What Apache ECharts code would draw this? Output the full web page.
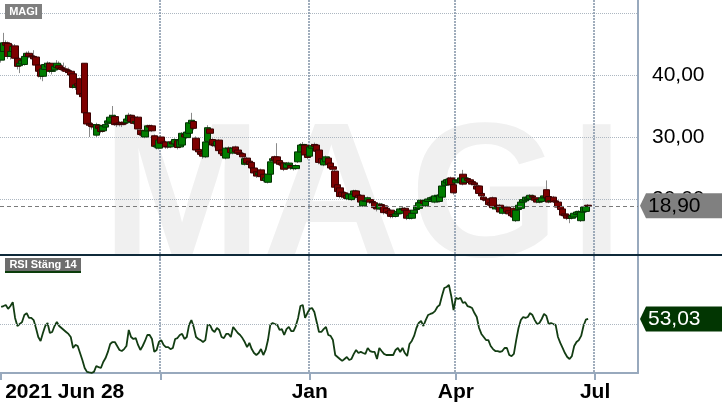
<!DOCTYPE html>
<html><head><meta charset="utf-8">
<script src="https://cdn.jsdelivr.net/npm/echarts@6/dist/echarts.min.js"></script>
<style>html,body{margin:0;padding:0;background:#fff}#c{width:722px;height:410px}</style>
</head><body><div id="c"></div>
<script>
const ticker = 'MAGI';
const rsiTitle = 'RSI Stäng 14';
const firstDate = '2021-06-28';
const nCategories = 275;
const holidays = ['2021-12-24','2021-12-31','2022-01-06','2022-04-15','2022-04-18','2022-05-26','2022-06-06','2022-06-24'];
const tickDates = ['2021-06-28','2021-10-01','2022-01-03','2022-04-01','2022-07-01'];
const tickLabels = ['2021 Jun 28','','Jan','Apr','Jul'];
const priceLabelValues = [20, 30, 40];

const opens = [
42.4,43.8,45.2,45.1,43.0,43.8,44.7,42.7,41.5,41.8,
41.7,43.0,43.5,43.1,43.0,42.9,41.6,40.8,39.8,40.9,
41.3,41.9,40.6,40.8,41.2,41.5,41.2,41.0,40.9,40.7,
40.6,40.2,38.0,38.6,39.4,37.0,41.9,33.9,32.2,32.0,
31.7,30.3,31.9,31.6,31.0,31.6,32.2,32.4,33.2,33.3,
32.2,32.3,32.3,32.4,32.3,32.7,33.5,33.2,32.3,33.2,
31.1,30.6,30.0,31.0,31.8,31.8,30.2,28.4,28.2,30.0,
29.2,29.2,28.5,28.4,29.2,28.9,29.4,28.4,28.7,30.4,
29.9,30.6,32.2,32.5,29.8,28.0,27.6,27.3,26.8,29.3,
31.3,29.6,28.9,28.6,29.5,27.9,27.3,26.6,28.1,28.2,
27.4,28.4,27.9,27.4,27.3,25.6,26.6,26.1,25.9,25.0,
24.4,23.9,24.7,24.0,23.0,22.7,24.0,26.2,26.8,26.8,
26.2,25.8,25.8,25.0,25.5,25.4,24.9,24.9,26.0,27.6,
28.7,28.7,27.2,26.9,28.2,28.8,28.7,27.9,26.5,25.5,
26.0,26.6,25.8,25.2,24.5,22.3,21.8,21.1,21.0,20.6,
20.0,19.9,20.8,21.3,20.6,20.6,18.9,19.6,19.7,19.9,
19.6,19.4,18.6,18.4,19.1,18.9,18.5,18.0,18.2,17.5,
17.2,17.6,17.7,18.3,18.5,18.2,16.9,16.9,17.7,18.3,
18.5,19.4,19.7,18.9,19.6,19.9,20.1,19.5,20.4,19.6,
20.3,22.2,22.6,22.3,23.4,22.3,22.6,22.9,22.7,24.0,
22.7,23.3,23.1,22.8,22.6,22.1,22.1,20.9,20.3,20.0,
20.0,19.4,20.2,18.4,18.9,19.0,17.7,18.6,18.7,18.1,
17.8,18.5,16.5,18.3,18.5,19.5,19.7,19.9,20.0,20.5,
20.2,19.9,19.5,19.6,20.2,21.5,20.4,19.6,20.3,19.7,
19.5,18.8,18.4,17.6,17.4,17.2,16.9,17.1,17.5,17.7,
16.5,17.9,18.0,19.0];
const closes = [
43.8,45.2,44.8,43.0,43.8,44.6,42.7,41.4,41.9,42.3,
43.0,43.5,43.0,42.9,42.6,41.6,40.6,39.8,41.0,41.7,
41.9,40.6,40.7,41.4,41.9,41.1,40.9,40.8,40.6,40.4,
40.0,38.0,38.4,38.2,36.9,36.5,33.9,32.1,31.9,31.7,
31.6,32.0,31.4,30.9,31.8,32.0,32.6,33.2,33.5,32.0,
32.0,32.1,32.0,32.2,32.9,33.5,32.5,32.2,32.5,31.3,
30.4,30.3,31.0,31.8,31.6,31.0,28.5,28.6,29.5,29.0,
29.0,28.4,28.4,29.2,28.9,29.6,28.3,29.4,30.6,30.0,
30.8,32.3,32.7,31.4,27.9,27.6,27.2,26.9,29.2,31.5,
30.6,28.7,28.6,29.3,27.8,27.3,27.0,28.2,28.2,27.5,
28.2,27.6,27.4,27.2,26.8,26.5,25.8,25.6,25.0,24.2,
23.7,24.2,23.6,23.0,23.4,24.0,26.0,26.5,26.3,25.8,
25.6,25.5,24.8,25.7,25.8,25.0,25.1,25.4,27.6,28.7,
28.8,27.1,26.7,28.4,28.6,28.5,27.7,25.9,25.8,26.4,
26.8,25.6,25.0,24.8,21.9,21.2,20.4,20.4,20.3,20.1,
20.8,20.8,21.3,20.4,20.2,19.5,19.7,19.7,20.2,19.5,
19.4,18.6,18.4,19.2,18.9,17.8,17.8,17.7,17.2,17.2,
17.6,18.0,18.4,18.5,18.1,16.9,17.3,17.7,18.2,18.9,
19.4,19.8,19.3,19.7,20.0,20.2,20.3,20.5,20.6,20.6,
22.1,22.9,23.1,23.2,22.3,21.0,23.1,23.0,23.4,22.4,
23.4,23.0,22.7,22.4,22.3,21.6,20.9,20.5,19.9,19.8,
19.1,19.0,18.6,18.8,18.7,17.9,18.6,18.5,17.9,17.6,
17.3,17.1,18.2,19.0,19.5,19.9,20.3,20.2,20.6,20.3,
19.8,19.5,19.9,20.2,20.5,20.2,19.5,19.7,19.6,19.5,
18.7,18.3,17.4,17.3,16.9,16.9,17.3,17.7,17.9,18.0,
17.9,18.7,18.8,18.9];
const highs = [
44.2,46.8,45.6,45.4,44.3,45.0,45.0,43.0,42.3,42.6,
43.4,43.8,43.9,43.4,44.0,43.0,41.9,41.0,41.3,42.0,
42.2,42.1,41.0,41.9,42.4,42.2,41.8,42.0,41.5,41.2,
40.9,40.4,38.8,39.4,39.6,37.4,41.9,34.2,32.5,32.4,
32.0,32.3,32.1,31.8,32.1,32.3,32.9,33.6,35.0,33.6,
32.6,32.6,32.5,32.9,33.1,33.9,33.7,33.4,32.8,33.4,
31.3,30.9,31.2,32.0,32.0,32.0,30.4,28.9,29.8,30.3,
29.5,29.4,28.8,29.4,29.5,29.8,29.6,29.6,30.8,30.7,
31.0,32.6,33.9,32.7,30.1,28.3,27.9,27.6,29.4,31.9,
31.5,29.8,29.2,29.5,29.7,28.1,27.5,28.4,28.5,28.4,
28.5,28.6,28.1,27.6,27.6,26.7,26.8,26.3,26.0,25.2,
24.6,24.5,24.9,24.4,23.6,24.2,26.3,26.9,27.0,29.0,
26.4,26.1,26.0,25.9,26.0,25.6,25.4,25.6,27.8,29.0,
29.2,28.9,27.3,28.6,28.9,29.1,28.9,28.1,26.7,26.6,
27.0,26.8,26.0,25.4,24.7,22.5,22.0,21.3,21.2,20.9,
21.0,21.1,21.5,21.5,20.8,20.8,19.9,20.0,20.4,20.1,
19.8,19.6,18.8,19.4,19.3,19.1,18.7,18.2,18.4,17.7,
17.8,18.2,18.6,18.7,18.7,18.4,17.5,17.9,18.4,19.1,
19.6,20.0,19.9,19.9,20.2,20.4,20.5,20.7,20.8,20.8,
22.3,23.2,23.4,23.5,23.6,22.5,23.3,23.3,23.6,24.7,
23.6,23.5,23.3,23.0,22.8,22.3,22.3,21.1,20.5,20.2,
20.2,19.6,20.4,19.0,19.1,19.2,18.8,18.9,18.9,18.3,
18.0,18.7,18.4,19.2,19.7,20.1,20.5,20.5,20.8,20.7,
20.4,20.1,20.1,20.4,20.8,23.0,20.6,20.0,20.5,19.9,
19.7,19.0,18.6,17.8,17.6,17.4,17.5,17.9,18.1,18.2,
18.1,18.9,19.0,19.2];
const lows = [
42.0,43.5,44.2,42.6,42.5,43.5,42.4,40.9,40.3,41.5,
41.5,42.8,42.7,42.6,42.3,41.2,39.6,39.3,39.0,40.6,
41.0,40.3,40.1,40.5,41.0,40.9,40.6,40.5,40.3,40.0,
39.7,37.8,37.6,37.9,36.5,36.0,33.6,31.8,30.0,31.2,
30.8,30.0,31.0,30.6,30.7,31.3,32.0,32.2,33.0,31.8,
31.6,31.7,31.6,31.9,32.0,32.5,32.2,32.0,32.0,31.0,
30.1,30.0,29.8,30.8,31.2,30.8,28.2,28.0,28.0,28.8,
28.7,28.1,28.1,28.2,28.6,28.6,28.0,28.2,28.5,29.7,
29.7,30.4,32.0,31.1,27.6,27.2,26.9,26.5,26.6,29.1,
30.2,28.4,28.3,28.4,27.5,27.0,26.7,26.4,27.9,27.2,
27.2,27.3,27.1,26.9,26.5,25.4,25.5,25.3,24.7,23.9,
23.4,23.6,23.3,22.7,22.6,22.5,23.8,25.9,26.0,25.6,
25.3,25.2,24.5,24.8,25.2,24.7,24.6,24.7,25.8,27.4,
28.4,26.9,26.4,26.7,28.0,28.2,27.5,25.6,25.5,25.3,
25.8,25.3,24.7,24.5,21.6,20.9,20.1,20.1,20.0,19.8,
19.8,19.7,20.5,20.1,19.9,19.3,18.7,19.3,19.5,19.2,
19.1,18.3,18.0,18.2,18.6,17.5,17.5,17.4,16.9,16.9,
17.0,17.4,17.5,18.1,17.8,16.6,16.7,16.7,17.5,18.1,
18.3,19.2,19.0,18.7,19.4,19.7,19.9,19.3,20.2,19.4,
20.1,22.0,22.4,22.1,22.0,20.7,22.4,22.6,22.5,22.2,
22.5,22.8,22.5,22.2,22.0,21.3,20.6,20.2,19.6,19.5,
18.8,18.7,18.3,18.2,18.4,17.6,17.5,18.2,17.6,17.3,
17.0,16.8,16.3,18.1,18.3,19.3,19.5,19.7,19.8,20.1,
19.5,19.3,19.3,19.4,20.0,20.1,19.3,19.4,19.4,19.2,
18.5,18.0,17.2,17.0,16.6,16.1,16.7,16.9,17.3,17.5,
16.3,17.7,17.8,18.7];
const rsi = [
59.7,60.2,60.8,58.6,60.2,62.4,53.6,49.1,50.2,51.3,
55.2,56.3,53.6,53.6,52.4,48.0,43.0,40.8,45.2,49.1,
50.8,45.2,45.8,49.1,51.3,49.1,48.0,46.9,45.8,44.7,
43.0,36.9,38.6,38.0,34.1,30.2,25.8,23.6,23.3,23.1,
23.6,26.9,26.3,25.8,29.1,31.3,34.7,39.1,40.2,40.2,
38.0,35.8,35.2,36.3,38.0,46.9,43.0,41.9,42.4,38.6,
35.8,38.0,40.8,44.1,44.1,41.9,34.7,35.8,40.2,41.3,
38.6,37.4,37.4,36.3,36.9,41.9,42.4,44.1,44.7,41.9,
43.0,49.7,52.4,48.6,43.0,41.9,41.3,40.2,41.3,49.7,
49.7,46.9,45.8,48.0,46.9,43.0,42.4,44.7,44.7,43.0,
48.6,46.9,45.2,44.1,42.4,40.2,37.4,39.7,36.3,34.1,
33.0,34.1,36.3,33.0,35.8,41.3,49.7,50.8,50.2,49.7,
46.9,47.4,44.1,47.4,48.6,46.3,46.3,49.1,53.6,60.2,
60.8,53.6,56.3,58.6,59.1,56.9,51.3,45.8,45.8,47.4,
48.6,44.1,43.6,41.3,33.0,31.9,30.8,29.7,30.8,31.9,
30.2,30.8,33.6,35.8,34.1,34.7,34.1,33.6,36.9,35.2,
34.7,34.7,30.8,36.9,35.2,33.6,33.0,33.0,33.0,33.0,
35.8,36.9,34.7,36.9,34.1,32.4,39.1,40.8,43.6,48.0,
50.8,51.9,49.1,52.4,55.2,55.8,56.3,57.4,59.7,60.8,
65.8,70.2,70.8,71.9,65.8,58.0,64.7,64.1,64.7,61.9,
62.4,60.2,59.7,59.1,56.3,54.1,48.0,44.7,43.0,41.3,
41.3,38.0,36.3,35.2,35.2,34.7,35.2,36.9,36.9,33.0,
32.4,33.6,41.3,48.0,52.4,54.1,53.6,54.1,56.3,55.2,
52.4,50.2,50.8,53.0,55.8,54.7,50.2,50.8,50.2,49.7,
43.0,39.7,36.9,34.1,31.9,30.8,32.4,38.0,40.2,41.3,
43.6,49.1,52.6,53.03];

// trading-day categories
const dates = [];
(function(){
  const p = firstDate.split('-').map(Number);
  const d = new Date(Date.UTC(p[0], p[1]-1, p[2]));
  while (dates.length < nCategories) {
    const s = d.toISOString().slice(0,10);
    const wd = d.getUTCDay();
    if (wd !== 0 && wd !== 6 && holidays.indexOf(s) < 0) dates.push(s);
    d.setUTCDate(d.getUTCDate() + 1);
  }
})();
const tickIdx = tickDates.map(t => dates.indexOf(t));
const isTick = i => tickIdx.indexOf(i) >= 0;
const isGridTick = i => i > 0 && isTick(i);
const fmt = v => v.toFixed(2).replace('.', ',');
const FONT = '"Liberation Sans", Arial, sans-serif';
const axisCol = '#98a9bd';
const vGrid = {show:true, interval:(i)=>isGridTick(i), lineStyle:{color:'#8193a7', width:1.5, type:[2,1]}};
const hGridStyle = {color:'#adb7c1', width:1, type:[1,1]};

const last = closes.length - 1;
const wickData = opens.map((o,i)=>[o, closes[i], lows[i], highs[i]]);
const bodyData = opens.map((o,i)=>[o, closes[i], Math.min(o,closes[i]), Math.max(o,closes[i])]);

const chart = echarts.init(document.getElementById('c'), null, {renderer:'canvas'});
chart.setOption({
  animation:false,
  backgroundColor:'#ffffff',
  grid:[
    {left:0, right:84, top:0, height:261, outerBoundsMode:'none'},
    {left:0, right:84, top:256, height:117, outerBoundsMode:'none'}
  ],
  xAxis:[
    {type:'category', gridIndex:0, data:dates, boundaryGap:true,
     axisLine:{show:false}, axisTick:{show:false}, axisLabel:{show:false}, splitLine:vGrid},
    {type:'category', gridIndex:1, data:dates, boundaryGap:true,
     axisLine:{show:true, lineStyle:{color:axisCol, width:2}},
     axisTick:{show:true, alignWithLabel:true, interval:(i)=>isTick(i), length:7, lineStyle:{color:axisCol, width:2}},
     axisLabel:{show:true, interval:(i)=>isTick(i),
       formatter:(v,i)=>{const k=tickIdx.indexOf(i); if(k<0) return ''; return (k===0?'{f|':'{n|')+tickLabels[k]+'}';},
       rich:{f:{fontSize:21, fontWeight:'bold', color:'#000', fontFamily:FONT, padding:[0,0,0,4]},
             n:{fontSize:21, fontWeight:'bold', color:'#000', fontFamily:FONT}},
       fontSize:21, fontWeight:'bold', color:'#000', fontFamily:FONT, margin:9, alignMinLabel:'left'},
     splitLine:vGrid}
  ],
  yAxis:[
    {type:'value', gridIndex:0, position:'right', min:10, max:52.1, interval:10,
     axisLine:{show:true, lineStyle:{color:axisCol, width:2}}, axisTick:{show:false},
     axisLabel:{formatter:v=>priceLabelValues.indexOf(v)>=0?fmt(v):'', fontSize:21, color:'#000', fontFamily:FONT, margin:14},
     splitLine:{show:true, showMinLine:false, showMaxLine:false, lineStyle:hGridStyle}},
    {type:'value', gridIndex:1, position:'right', min:23, max:88,
     axisLine:{show:true, lineStyle:{color:axisCol, width:2}}, axisTick:{show:false},
     axisLabel:{show:false}, splitLine:{show:false}}
  ],
  series:[
    {type:'candlestick', name:'wick', xAxisIndex:0, yAxisIndex:0, data:wickData, barWidth:1, silent:true,
     itemStyle:{color:'#8a8a8a', color0:'#8a8a8a', borderColor:'#8a8a8a', borderColor0:'#8a8a8a', borderWidth:1}},
    {type:'candlestick', name:ticker, xAxisIndex:0, yAxisIndex:0, data:bodyData, barWidth:7, silent:true,
     itemStyle:{color:'#007d00', color0:'#7d0000', borderColor:'#033303', borderColor0:'#3a0202', borderWidth:1},
     markLine:{silent:true, symbol:['none','none'], label:{show:false},
       lineStyle:{color:'#7a7a7a', type:[4,3], width:1}, data:[{yAxis:closes[last]}]}},
    {type:'line', name:rsiTitle, xAxisIndex:1, yAxisIndex:1, data:rsi, symbol:'none', silent:true,
     lineStyle:{color:'#133d13', width:1.8},
     markLine:{silent:true, symbol:['none','none'], label:{show:false}, lineStyle:hGridStyle, data:[{yAxis:50}]}}
  ]
});

const yLast = chart.convertToPixel({yAxisIndex:0}, closes[last]);
const yRsi = chart.convertToPixel({yAxisIndex:1}, rsi[last]);
function tag(y, fill, textColor, text){
  return [
    {type:'polygon', z:50, shape:{points:[[640,y],[646,y-12.5],[722,y-12.5],[722,y+12.5],[646,y+12.5]]}, style:{fill:fill}},
    {type:'text', z:51, x:648, y:y, style:{text:text, fill:textColor, font:'21px '+FONT, align:'left', verticalAlign:'middle'}}
  ];
}
// watermark letters (placed individually to follow the reference spacing)
const wmLetters = ticker.split('');
const wmX = [102, 262, 410, 570];
const watermark = wmLetters.map((ch, k) => ({type:'text', z:-10, x:wmX[k], y:203, silent:true,
  style:{text:ch, fill:'#f0f0f0', font:'bold 192px '+FONT, align:'left', verticalAlign:'middle'}}));
chart.setOption({
  graphic: watermark.concat([
    {type:'rect', z:40, shape:{x:0, y:254, width:722, height:2}, style:{fill:'#0f2a3a'}},
    {type:'rect', z:40, shape:{x:5, y:4, width:37, height:15}, style:{fill:'#7f7f7f'}},
    {type:'text', z:41, x:23.5, y:11.5, style:{text:ticker, fill:'#fff', font:'bold 11px '+FONT, align:'center', verticalAlign:'middle'}},
    {type:'rect', z:40, shape:{x:5, y:258, width:76, height:15}, style:{fill:'#6d6d6d'}},
    {type:'rect', z:40, shape:{x:5, y:271, width:76, height:2}, style:{fill:'#0b3d0b'}},
    {type:'text', z:41, x:43, y:264.5, style:{text:rsiTitle, fill:'#fff', font:'bold 11px '+FONT, align:'center', verticalAlign:'middle'}}
  ]).concat(tag(yLast, '#808080', '#000', fmt(closes[last])), tag(yRsi, '#023602', '#fff', fmt(rsi[last])))
});
</script>
</body></html>
